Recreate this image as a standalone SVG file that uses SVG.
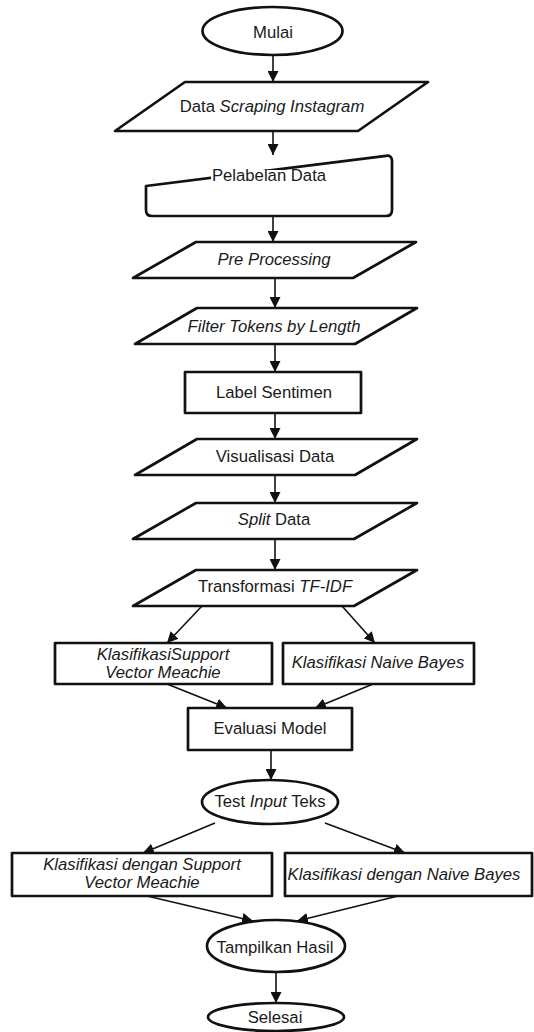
<svg xmlns="http://www.w3.org/2000/svg" width="534" height="1032" viewBox="0 0 534 1032">
<style>
.s{fill:#fff;stroke:#111;stroke-width:2.7;stroke-linejoin:round}
.t{font-family:"Liberation Sans",Arial,sans-serif;font-size:16.7px;fill:#1a1a1a;text-anchor:middle}
.c{fill:none;stroke:#111;stroke-width:1.6}
.i{font-style:italic}
</style>
<defs>
<marker id="ah" markerUnits="userSpaceOnUse" markerWidth="11" markerHeight="11" refX="11" refY="5.5" orient="auto">
<path d="M0,0 L11,5.5 L0,11 z" fill="#111"/>
</marker>
</defs>
<rect width="534" height="1032" fill="#fff"/>
<g id="connectors">
<line class="c" x1="273" y1="55" x2="273" y2="82" marker-end="url(#ah)"/>
<line class="c" x1="273" y1="131" x2="273" y2="155" marker-end="url(#ah)"/>
<line class="c" x1="273" y1="216" x2="273" y2="242" marker-end="url(#ah)"/>
<line class="c" x1="275" y1="278" x2="275" y2="308" marker-end="url(#ah)"/>
<line class="c" x1="275" y1="344" x2="275" y2="372" marker-end="url(#ah)"/>
<line class="c" x1="275" y1="413" x2="275" y2="439" marker-end="url(#ah)"/>
<line class="c" x1="275" y1="475" x2="275" y2="503" marker-end="url(#ah)"/>
<line class="c" x1="275" y1="539" x2="275" y2="570" marker-end="url(#ah)"/>
<line class="c" x1="202" y1="606" x2="167" y2="643" marker-end="url(#ah)"/>
<line class="c" x1="342" y1="606" x2="375" y2="643" marker-end="url(#ah)"/>
<line class="c" x1="167" y1="684" x2="227" y2="708" marker-end="url(#ah)"/>
<line class="c" x1="373" y1="684" x2="315" y2="708" marker-end="url(#ah)"/>
<line class="c" x1="271" y1="750" x2="271" y2="780" marker-end="url(#ah)"/>
<line class="c" x1="215" y1="823" x2="143" y2="853" marker-end="url(#ah)"/>
<line class="c" x1="325" y1="823" x2="405" y2="853" marker-end="url(#ah)"/>
<line class="c" x1="147" y1="896" x2="253" y2="921" marker-end="url(#ah)"/>
<line class="c" x1="398" y1="896" x2="297" y2="921" marker-end="url(#ah)"/>
<line class="c" x1="276" y1="973" x2="276" y2="1003" marker-end="url(#ah)"/>
</g>
<g id="mulai">
<ellipse class="s" cx="272.5" cy="31" rx="70" ry="24"/>
<text class="t" x="273" y="38">Mulai</text>
</g>
<g id="scraping">
<polygon class="s" points="185,82 428,82 358,131 115,131"/>
<text class="t" x="272" y="112">Data <tspan class="i">Scraping Instagram</tspan></text>
</g>
<g id="pelabelan">
<path class="s" d="M146,186 L386,155.8 Q392,155 392,161 V210 Q392,216 386,216 H152 Q146,216 146,210 Z"/>
<rect x="211" y="170" width="118" height="15" fill="#fff"/>
<text class="t" x="269" y="181">Pelabelan Data</text>
</g>
<g id="preprocessing">
<polygon class="s" points="196,242 416,242 353,278 133,278"/>
<text class="t i" x="274" y="265">Pre Processing</text>
</g>
<g id="filter">
<polygon class="s" points="197,308 417,308 355,344 135,344"/>
<text class="t i" x="274" y="332">Filter Tokens by Length</text>
</g>
<g id="label">
<rect class="s" x="185" y="372" width="176" height="41"/>
<text class="t" x="274" y="398">Label Sentimen</text>
</g>
<g id="visualisasi">
<polygon class="s" points="197,439 417,439 355,475 135,475"/>
<text class="t" x="275" y="462">Visualisasi Data</text>
</g>
<g id="split">
<polygon class="s" points="196,503 417,503 354,539 133,539"/>
<text class="t" x="274" y="525"><tspan class="i">Split</tspan> Data</text>
</g>
<g id="tfidf">
<polygon class="s" points="196,570 417,570 354,606 133,606"/>
<text class="t" x="275" y="592">Transformasi <tspan class="i">TF-IDF</tspan></text>
</g>
<g id="svm">
<rect class="s" x="55" y="643" width="217" height="41"/>
<text class="t i" x="163" y="660">KlasifikasiSupport</text>
<text class="t i" x="163" y="678">Vector Meachie</text>
</g>
<g id="nb">
<rect class="s" x="283" y="643" width="191" height="41"/>
<text class="t i" x="378" y="668">Klasifikasi Naive Bayes</text>
</g>
<g id="evaluasi">
<rect class="s" x="188" y="708" width="164" height="42"/>
<text class="t" x="270" y="734">Evaluasi Model</text>
</g>
<g id="test">
<ellipse class="s" cx="270" cy="802" rx="68" ry="22"/>
<text class="t" x="270" y="807">Test <tspan class="i">Input</tspan> Teks</text>
</g>
<g id="svm2">
<rect class="s" x="12" y="853" width="260" height="43"/>
<text class="t i" x="142" y="870">Klasifikasi dengan Support</text>
<text class="t i" x="142" y="888">Vector Meachie</text>
</g>
<g id="nb2">
<rect class="s" x="285" y="853" width="247" height="43"/>
<text class="t i" x="404" y="880">Klasifikasi dengan Naive Bayes</text>
</g>
<g id="tampilkan">
<ellipse class="s" cx="276" cy="946" rx="69" ry="26"/>
<text class="t" x="275" y="953">Tampilkan Hasil</text>
</g>
<g id="selesai">
<ellipse class="s" cx="276" cy="1017" rx="68" ry="14"/>
<text class="t" x="275" y="1023">Selesai</text>
</g>
</svg>
